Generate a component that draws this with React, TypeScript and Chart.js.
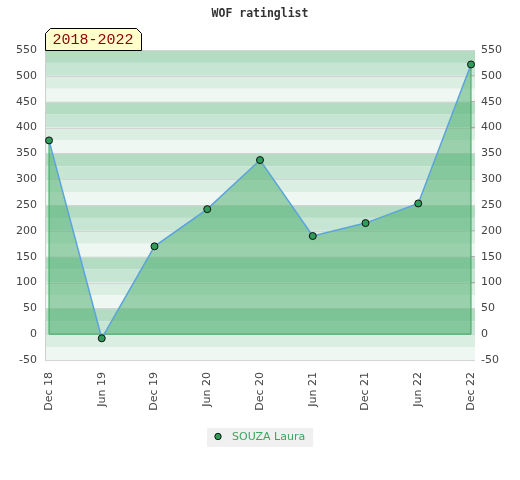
import { useEffect, useRef } from "react";
import { Chart, registerables } from "chart.js";

Chart.register(...registerables);

const chartTitle = "WOF ratinglist";
const periodLabel = "2018-2022";
const seriesName = "SOUZA Laura";
const categories = ["Dec 18", "Jun 19", "Dec 19", "Jun 20", "Dec 20", "Jun 21", "Dec 21", "Jun 22", "Dec 22"];
const ratings = [375, -8, 170, 242, 337, 190, 215, 253, 522];
const yMin = -50;
const yMax = 550;
const yStep = 50;
const bandStep = 25;
const minorStep = 10;

const bandColors = ["#b3dcc3", "#c7e5d3", "#dbeee2", "#eef7f1"];

const backgroundPlugin = {
  id: "bands",
  beforeDatasetsDraw(chart: any) {
    const { ctx, chartArea } = chart;
    const y = chart.scales.y;
    const x0 = chartArea.left - 4;
    const x1 = chartArea.right + 4;
    ctx.save();
    let i = 0;
    for (let v = yMax; v > yMin; v -= bandStep) {
      const yt = y.getPixelForValue(v);
      const yb = y.getPixelForValue(v - bandStep);
      ctx.fillStyle = bandColors[i % 4];
      ctx.fillRect(x0, yt, x1 - x0, yb - yt);
      i++;
    }
    ctx.strokeStyle = "#d4d4d4";
    ctx.lineWidth = 1;
    for (let v = yMax; v >= yMin; v -= yStep) {
      const py = Math.round(y.getPixelForValue(v)) + 0.5;
      ctx.beginPath();
      ctx.moveTo(x0, py);
      ctx.lineTo(x1, py);
      ctx.stroke();
    }
    ctx.strokeStyle = "#cfcfcf";
    ctx.beginPath();
    ctx.moveTo(x0 + 0.5, Math.round(chartArea.top));
    ctx.lineTo(x0 + 0.5, Math.round(chartArea.bottom) + 1);
    ctx.stroke();
    ctx.restore();
  },
  beforeDatasetDraw(chart: any) {
    const { ctx } = chart;
    const meta = chart.getDatasetMeta(0);
    const pts = meta.data;
    if (!pts.length) return;
    const y = chart.scales.y;
    const y0 = y.getPixelForValue(0);
    const first = pts[0];
    const last = pts[pts.length - 1];
    ctx.save();
    ctx.strokeStyle = "#3aa660";
    ctx.lineWidth = 1;
    ctx.beginPath();
    ctx.moveTo(first.x, first.y);
    ctx.lineTo(first.x, y0);
    ctx.lineTo(last.x, y0);
    ctx.lineTo(last.x, last.y);
    ctx.stroke();
    ctx.restore();
  },
  afterDraw(chart: any) {
    const { ctx, chartArea } = chart;
    ctx.save();
    // period label box
    ctx.font = "15px 'Liberation Mono', 'DejaVu Sans Mono', monospace";
    const tw = ctx.measureText(periodLabel).width;
    const bx0 = chartArea.left - 4 + 0.5;
    const bx1 = bx0 + tw + 15;
    const by1 = chartArea.top + 0.5;
    const by0 = by1 - 22;
    const c = 5;
    ctx.beginPath();
    ctx.moveTo(bx0, by1);
    ctx.lineTo(bx0, by0 + c);
    ctx.lineTo(bx0 + c, by0);
    ctx.lineTo(bx1 - c, by0);
    ctx.lineTo(bx1, by0 + c);
    ctx.lineTo(bx1, by1);
    ctx.closePath();
    ctx.fillStyle = "#ffffcc";
    ctx.fill();
    ctx.strokeStyle = "#000";
    ctx.lineWidth = 1;
    ctx.stroke();
    ctx.fillStyle = "#8b0000";
    ctx.textBaseline = "middle";
    ctx.textAlign = "left";
    ctx.fillText(periodLabel, bx0 + 7, by0 + 12);

    // legend
    ctx.font = "11px 'DejaVu Sans', sans-serif";
    const lw = ctx.measureText(seriesName).width;
    const boxW = lw + 33;
    const cx = chart.width / 2;
    const lx0 = Math.round(cx - boxW / 2);
    const ly0 = Math.round(chartArea.bottom + 68);
    ctx.fillStyle = "#f0f0f0";
    ctx.fillRect(lx0, ly0, boxW, 19);
    ctx.beginPath();
    ctx.arc(lx0 + 11, ly0 + 8.5, 3.2, 0, Math.PI * 2);
    ctx.fillStyle = "#2f9c5a";
    ctx.fill();
    ctx.strokeStyle = "#111";
    ctx.stroke();
    ctx.fillStyle = "#3aa660";
    ctx.textBaseline = "middle";
    ctx.fillText(seriesName, lx0 + 25, ly0 + 9.5);
    ctx.restore();
  },
};

export default function App() {
  const ref = useRef<HTMLCanvasElement | null>(null);
  useEffect(() => {
    if (!ref.current) return;
    const tickFont = { family: "'DejaVu Sans', sans-serif", size: 11 };
    const chart = new Chart(ref.current, {
      type: "line",
      data: {
        labels: categories,
        datasets: [
          {
            label: seriesName,
            data: ratings,
            yAxisID: "y",
            borderColor: "#5ba3dd",
            borderWidth: 1.5,
            backgroundColor: "rgba(69,172,103,0.5)",
            fill: "origin",
            tension: 0,
            pointRadius: 3.5,
            pointBackgroundColor: "#2f9c5a",
            pointBorderColor: "#111",
            pointBorderWidth: 1,
            clip: false as any,
          },
        ],
      },
      options: {
        animation: false,
        responsive: false,
        layout: { padding: 0 },
        scales: {
          x: {
            type: "category",
            grid: { display: false, drawTicks: false },
            border: { display: false },
            ticks: {
              autoSkip: false,
              maxRotation: 90,
              minRotation: 90,
              padding: 12,
              color: "#444",
              font: tickFont,
            },
            afterFit: (s: any) => {
              s.height = 120;
            },
          },
          y: {
            position: "left",
            min: yMin,
            max: yMax,
            grid: { display: false, drawTicks: false },
            border: { display: false },
            ticks: { stepSize: yStep, padding: 12, color: "#444", font: tickFont },
            afterFit: (s: any) => {
              s.width = 49;
            },
          },
          y2: {
            position: "right",
            min: yMin,
            max: yMax,
            grid: { drawOnChartArea: false, drawTicks: true, tickLength: 4, color: "#000", lineWidth: 1 },
            border: { display: false },
            ticks: {
              stepSize: minorStep,
              autoSkip: false,
              padding: 6,
              color: "#444",
              font: tickFont,
              callback: (v: any) => (Number(v) % yStep === 0 ? String(v) : ""),
            },
            afterFit: (s: any) => {
              s.width = 49;
            },
          },
        },
        plugins: {
          legend: { display: false },
          tooltip: { enabled: false },
          title: {
            display: true,
            text: chartTitle,
            color: "#333",
            font: { family: "'DejaVu Sans Mono', monospace", size: 11.5, weight: "bold" },
            padding: { top: 7, bottom: 29.2 },
          },
        },
      },
      plugins: [backgroundPlugin],
    });
    return () => chart.destroy();
  }, []);
  return (
    <div style={{ position: "fixed", left: 0, top: 0, width: 520, height: 480, background: "#fff" }}>
      <canvas ref={ref} width={520} height={480} />
    </div>
  );
}
